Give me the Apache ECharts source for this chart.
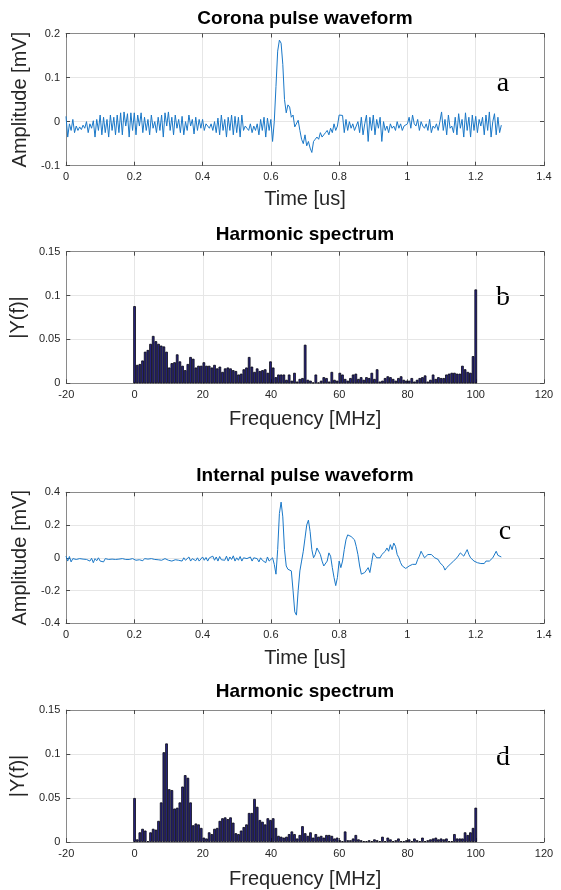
<!DOCTYPE html>
<html>
<head>
<meta charset="utf-8">
<script src="https://cdn.jsdelivr.net/npm/echarts@6/dist/echarts.min.js"></script>
<style>html,body{margin:0;padding:0;background:#fff;}#c{width:561px;height:890px;}</style>
</head>
<body>
<div id="c"></div>
<script>
// ---- Data ----
const titles = ['Corona pulse waveform', 'Harmonic spectrum', 'Internal pulse waveform', 'Harmonic spectrum'];
const panelLetters = ['a', 'b', 'c', 'd'];
const timeStepUs = 0.005;      // sample spacing of the waveforms (us)
const freqStepMHz = 100 / 128;  // FFT bin spacing (MHz)

const coronaWave = [
  0.012,-0.035,-0.005,-0.02,0.005,-0.025,-0.01,-0.02,-0.012,-0.018,-0.008,-0.015,0.0,-0.025,-0.005,-0.015,0.002,-0.035,0.005,-0.02,
  0.015,-0.03,0.01,-0.025,0.005,-0.035,0.015,-0.02,0.01,-0.03,0.015,-0.025,0.02,-0.03,0.022,-0.01,0.018,-0.035,0.02,-0.02,
  0.02,-0.03,0.015,-0.01,0.02,-0.025,0.01,-0.02,0.005,-0.03,0.015,-0.015,0.0,-0.025,0.01,-0.02,0.015,-0.035,0.02,-0.01,
  0.022,-0.02,0.01,-0.03,0.015,-0.015,0.005,-0.025,0.012,-0.03,0.0,-0.02,0.015,-0.01,0.005,-0.028,0.01,-0.02,0.005,-0.015,
  0.005,-0.02,-0.005,-0.01,-0.015,-0.005,-0.02,0.0,-0.025,0.008,-0.03,0.015,-0.02,0.005,-0.035,0.01,-0.02,0.015,-0.03,0.012,
  -0.025,0.01,-0.035,0.015,-0.02,-0.01,-0.015,-0.02,-0.005,-0.025,-0.01,-0.02,-0.005,-0.03,0.005,-0.02,0.01,-0.035,0.008,-0.02,
  0.005,-0.045,0.0,0.08,0.16,0.185,0.178,0.13,0.05,0.02,0.038,0.033,0.01,0.015,-0.012,-0.015,0.003,-0.02,-0.04,-0.05,
  -0.03,-0.055,-0.045,-0.06,-0.07,-0.045,-0.04,-0.035,-0.04,-0.025,-0.035,-0.03,-0.025,-0.02,-0.03,-0.015,-0.025,-0.005,-0.02,-0.01,
  0.015,0.015,0.014,-0.025,0.005,-0.02,0.0,-0.015,-0.005,-0.02,-0.01,0.0,-0.025,0.01,-0.03,-0.005,0.015,-0.045,0.01,-0.02,
  0.015,-0.03,0.005,-0.015,0.01,-0.045,0.0,-0.02,-0.01,-0.025,-0.005,-0.015,-0.01,-0.02,0.0,-0.015,-0.005,-0.02,-0.01,-0.008,
  -0.005,0.01,-0.015,0.015,-0.005,-0.01,0.005,-0.02,0.0,-0.01,-0.015,-0.005,-0.02,0.005,-0.025,-0.01,-0.015,-0.005,-0.02,0.0,
  0.022,-0.02,0.005,-0.03,0.015,-0.015,-0.01,-0.025,0.01,-0.03,0.018,-0.015,0.005,-0.035,0.02,-0.02,0.01,-0.035,0.015,-0.02,
  0.012,-0.025,0.005,-0.01,0.01,-0.03,0.015,-0.02,0.022,-0.035,0.0,0.018,-0.03,0.01,-0.025,-0.008
];

const coronaSpectrum = [
  0.088,0.021,0.022,0.026,0.036,0.038,0.045,0.054,0.048,0.045,0.043,0.042,0.036,0.018,0.023,0.024,0.033,0.025,0.02,0.015,
  0.022,0.03,0.028,0.018,0.02,0.02,0.024,0.02,0.02,0.018,0.021,0.017,0.019,0.013,0.017,0.018,0.017,0.015,0.014,0.01,
  0.011,0.016,0.018,0.03,0.019,0.013,0.017,0.014,0.015,0.016,0.012,0.025,0.018,0.007,0.01,0.01,0.01,0.004,0.01,0.003,
  0.012,0.002,0.005,0.006,0.044,0.004,0.003,0.001,0.01,0.001,0.003,0.007,0.006,0.002,0.013,0.004,0.003,0.012,0.01,0.005,
  0.003,0.006,0.01,0.011,0.005,0.007,0.004,0.007,0.006,0.012,0.005,0.016,0.002,0.003,0.006,0.008,0.007,0.005,0.003,0.006,
  0.008,0.004,0.003,0.003,0.006,0.002,0.004,0.006,0.007,0.009,0.002,0.004,0.01,0.005,0.007,0.006,0.006,0.01,0.011,0.012,
  0.012,0.011,0.011,0.02,0.016,0.013,0.012,0.031,0.107
];

const internalWave = [
  0.01,-0.02,0.008,-0.025,-0.005,-0.015,-0.01,-0.02,-0.005,-0.012,-0.008,-0.015,-0.01,-0.005,-0.02,-0.003,-0.03,-0.005,-0.018,0.0,
  -0.02,-0.01,-0.025,-0.005,-0.015,-0.01,-0.012,-0.008,-0.015,-0.01,-0.012,-0.008,-0.02,-0.005,-0.015,-0.01,0.002,-0.01,-0.015,-0.005,
  -0.01,-0.015,-0.005,-0.012,-0.01,-0.018,-0.005,-0.012,-0.008,-0.02,-0.005,-0.015,-0.01,-0.008,-0.012,-0.005,-0.015,-0.02,-0.005,-0.01,
  -0.015,-0.005,-0.02,-0.008,-0.012,-0.003,-0.015,-0.01,-0.02,0.0,-0.015,-0.01,0.005,-0.02,-0.005,-0.01,-0.018,0.0,-0.02,-0.008,
  0.005,-0.015,0.002,-0.02,0.0,-0.01,0.01,-0.015,0.005,-0.02,0.008,-0.012,0.0,-0.015,0.01,-0.02,0.005,-0.01,0.012,-0.02,
  0.0,-0.015,0.008,-0.02,0.0,-0.01,-0.005,-0.015,0.005,-0.02,0.0,-0.01,-0.005,-0.025,0.0,-0.015,-0.005,-0.03,0.005,-0.02,
  -0.01,0.0,-0.04,-0.1,0.05,0.27,0.34,0.25,0.05,-0.05,-0.07,-0.06,-0.08,-0.2,-0.33,-0.35,-0.2,-0.08,-0.02,0.04,
  0.12,0.2,0.23,0.16,0.05,0.0,0.02,0.06,0.065,0.02,-0.02,-0.05,-0.06,-0.02,0.03,0.01,-0.06,-0.12,-0.17,-0.12,
  -0.02,-0.06,-0.02,0.05,0.11,0.14,0.135,0.13,0.12,0.11,0.07,0.02,-0.05,-0.1,-0.11,-0.09,-0.08,-0.06,-0.09,-0.03,
  0.03,0.02,0.0,-0.01,0.0,0.02,0.03,0.04,0.06,0.04,0.08,0.05,0.09,0.07,0.02,0.0,-0.03,-0.05,-0.06,-0.065,
  -0.06,-0.05,-0.05,-0.04,-0.03,-0.04,-0.01,0.01,0.04,0.02,0.0,0.01,0.02,0.025,0.02,0.01,0.0,-0.01,-0.01,-0.03,
  -0.04,-0.05,-0.075,-0.06,-0.05,-0.04,-0.03,-0.02,-0.01,0.0,0.01,0.03,0.02,0.01,0.03,0.05,0.02,0.0,-0.01,-0.02,
  -0.025,-0.03,-0.035,-0.035,-0.04,-0.035,-0.02,-0.015,-0.02,-0.01,0.0,0.0,0.04,0.015,0.005,0.005
];

const internalSpectrum = [
  0.05,0.003,0.011,0.015,0.013,0.001,0.011,0.015,0.014,0.024,0.045,0.102,0.112,0.06,0.059,0.038,0.039,0.045,0.063,0.076,
  0.073,0.045,0.019,0.021,0.02,0.016,0.005,0.004,0.011,0.009,0.015,0.016,0.024,0.027,0.028,0.026,0.028,0.022,0.01,0.009,
  0.013,0.017,0.02,0.033,0.033,0.049,0.04,0.025,0.023,0.02,0.027,0.025,0.027,0.016,0.007,0.006,0.005,0.006,0.009,0.012,
  0.009,0.004,0.008,0.018,0.01,0.007,0.011,0.005,0.009,0.006,0.007,0.005,0.008,0.008,0.007,0.004,0.005,0.002,0.001,0.012,
  0.002,0.002,0.004,0.008,0.003,0.002,0.001,0.001,0.002,0.001,0.003,0.002,0.001,0.006,0.001,0.005,0.003,0.001,0.002,0.004,
  0.001,0.001,0.002,0.003,0.001,0.004,0.002,0.001,0.005,0.001,0.002,0.003,0.004,0.005,0.003,0.004,0.003,0.004,0.001,0.001,
  0.009,0.004,0.004,0.004,0.011,0.008,0.011,0.016,0.039
];

const timeTicks = { min: 0, max: 1.4, interval: 0.2 };
const freqTicks = { min: -20, max: 120, interval: 20 };
const ampTicksA = { min: -0.1, max: 0.2, interval: 0.1 };
const specTicks = { min: 0, max: 0.15, interval: 0.05 };
const ampTicksC = { min: -0.4, max: 0.4, interval: 0.2 };

// ---- Build ----
const toTime = arr => arr.map((v, i) => [+(i * timeStepUs).toFixed(4), v]);
const toFreq = arr => arr.map((v, i) => [i * freqStepMHz, v]);

const FONT = '"Liberation Sans", Arial, Helvetica, sans-serif';
const AXIS_GRAY = '#8a8a8a';
const TEXT = '#262626';

const grids = [
  { left: 66, top: 33.5, width: 478, height: 132.2 },
  { left: 66, top: 251.7, width: 478, height: 131.6 },
  { left: 66, top: 492.3, width: 478, height: 131 },
  { left: 66, top: 710, width: 478, height: 132.3 }
];
const xTicks = [timeTicks, freqTicks, timeTicks, freqTicks];
const yTicks = [ampTicksA, specTicks, ampTicksC, specTicks];
const xNames = ['Time [us]', 'Frequency [MHz]', 'Time [us]', 'Frequency [MHz]'];
const yNames = ['Amplitude [mV]', '|Y(f)|', 'Amplitude [mV]', '|Y(f)|'];
const xNameGaps = [24, 26.5, 25, 27];
const titleTops = [8.8, 225.5, 466.2, 682.2];
const letterPos = [[503, 84], [503, 298], [505, 532], [503, 758]];

const xAxis = [], yAxis = [], title = [], series = [];
grids.forEach((g, i) => {
  const common = {
    gridIndex: i, type: 'value',
    axisLine: { show: true, onZero: false, lineStyle: { color: AXIS_GRAY, width: 1 } },
    axisTick: { show: true, inside: true, length: 4, lineStyle: { color: '#4a4a4a' } }
  };
  xAxis.push(Object.assign({}, common, xTicks[i], {
    position: 'bottom',
    name: xNames[i], nameLocation: 'middle', nameGap: xNameGaps[i],
    nameTextStyle: { fontFamily: FONT, fontSize: 20, color: TEXT },
    axisLabel: { fontFamily: FONT, fontSize: 11, color: TEXT, margin: 6 },
    splitLine: { show: true, lineStyle: { color: '#e6e6e6', width: 1 } }
  }));
  xAxis.push(Object.assign({}, common, xTicks[i], {
    position: 'top', axisLabel: { show: false }, splitLine: { show: false }
  }));
  yAxis.push(Object.assign({}, common, yTicks[i], {
    position: 'left',
    name: yNames[i], nameLocation: 'middle', nameGap: 31,
    nameTextStyle: { fontFamily: FONT, fontSize: 20, color: TEXT },
    axisLabel: { fontFamily: FONT, fontSize: 11, color: TEXT, margin: 6 },
    splitLine: { show: true, lineStyle: { color: '#e6e6e6', width: 1 } }
  }));
  yAxis.push(Object.assign({}, common, yTicks[i], {
    position: 'right', axisLabel: { show: false }, splitLine: { show: false }
  }));
  title.push({
    text: titles[i], left: 305, top: titleTops[i], textAlign: 'center', padding: 0,
    textStyle: { fontFamily: FONT, fontSize: 19, fontWeight: 'bold', color: '#000' }
  });
});

const lineStyleBlue = { color: '#1a78c8', width: 1 };
series.push({
  type: 'line', xAxisIndex: 0, yAxisIndex: 0, data: toTime(coronaWave),
  showSymbol: false, symbol: 'none', lineStyle: lineStyleBlue, itemStyle: { color: '#1a78c8' }, animation: false
});
series.push({
  type: 'line', xAxisIndex: 4, yAxisIndex: 4, data: toTime(internalWave),
  showSymbol: false, symbol: 'none', lineStyle: lineStyleBlue, itemStyle: { color: '#1a78c8' }, animation: false
});
const barStyle = { color: '#2a2586', borderColor: '#05050f', borderWidth: 0.8 };
series.push({
  type: 'bar', xAxisIndex: 2, yAxisIndex: 2, data: toFreq(coronaSpectrum),
  barWidth: '100%', itemStyle: barStyle, animation: false
});
series.push({
  type: 'bar', xAxisIndex: 6, yAxisIndex: 6, data: toFreq(internalSpectrum),
  barWidth: '100%', itemStyle: barStyle, animation: false
});

const graphic = panelLetters.map((t, i) => ({
  type: 'text', x: letterPos[i][0], y: letterPos[i][1],
  style: {
    text: t, fill: '#000', align: 'center', verticalAlign: 'middle',
    font: '28px "Liberation Serif", "Times New Roman", serif'
  }
}));

const chart = echarts.init(document.getElementById('c'), null, { renderer: 'canvas' });
chart.setOption({
  animation: false,
  backgroundColor: '#fff',
  title, grid: grids, xAxis, yAxis, series, graphic
});
</script>
</body>
</html>
